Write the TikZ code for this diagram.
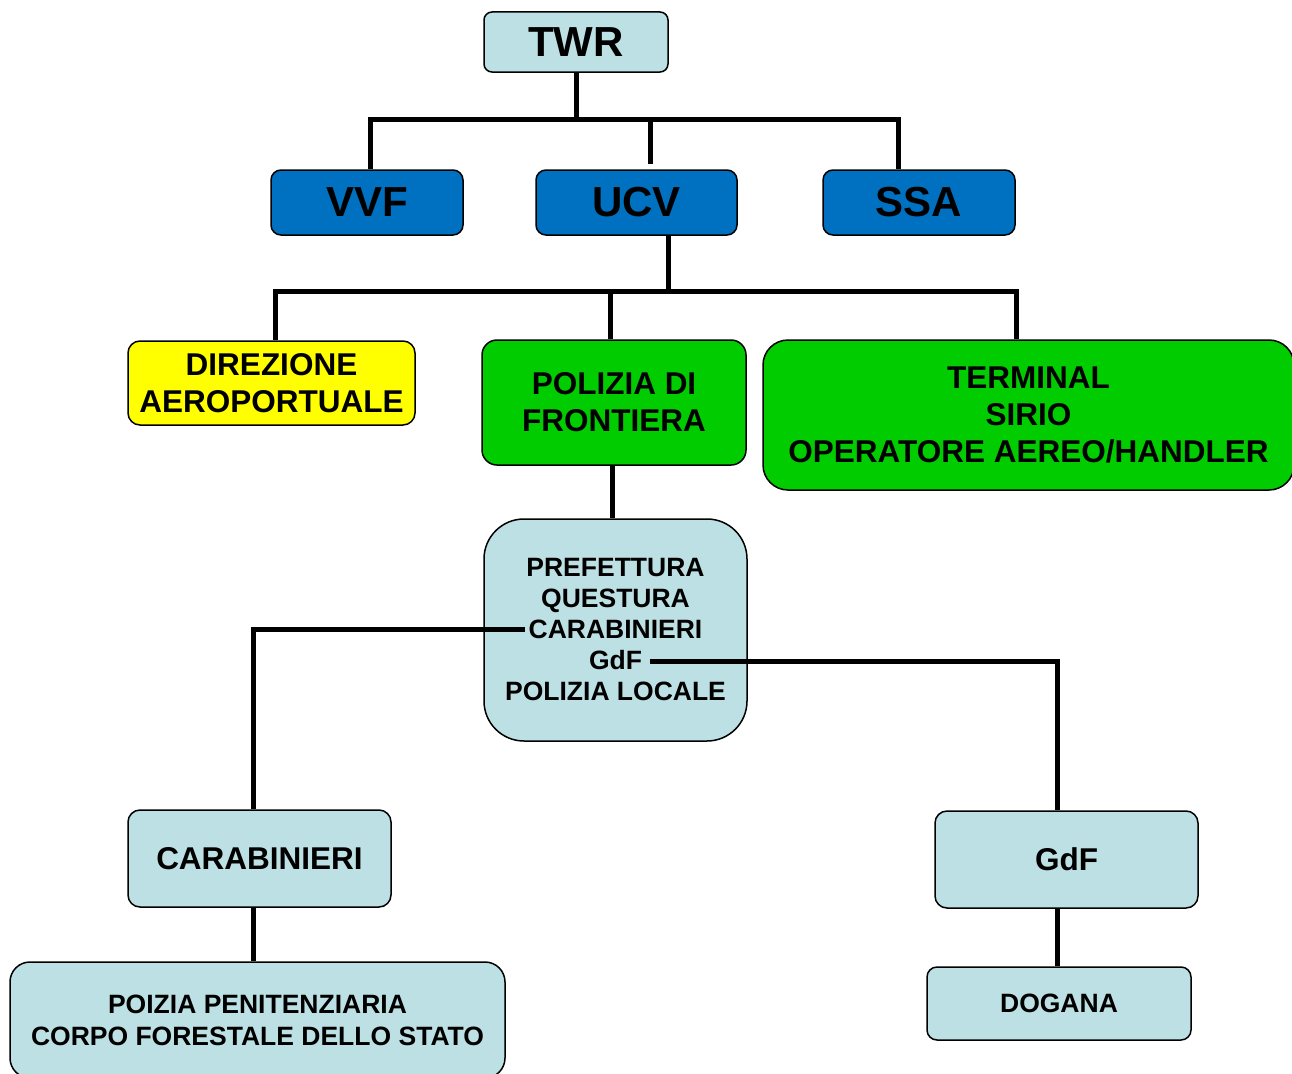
\documentclass[tikz,border=0pt]{standalone}
\usepackage{fontspec}
\setmainfont{Liberation Sans}
\definecolor{lightc}{RGB}{188,224,227}
\definecolor{bluec}{RGB}{0,112,192}
\definecolor{greenc}{RGB}{0,204,0}
\definecolor{yellowc}{RGB}{255,255,0}
\begin{document}
\begin{tikzpicture}[x=1pt,y=-1pt,
  box/.style={draw=black, line width=1.5pt, inner sep=0pt, align=center},
  big/.style={font=\fontsize{42}{48}\selectfont\bfseries},
  mid/.style={font=\fontsize{31.5}{37}\selectfont\bfseries},
  small/.style={font=\fontsize{26.5}{31}\selectfont\bfseries},
  smallb/.style={font=\fontsize{26.5}{32}\selectfont\bfseries},
  conn/.style={line width=5pt, line join=miter}]
\useasboundingbox (0,0) rectangle (1292,1073);
\clip (0,0) rectangle (1292,1073);

\node[box, big, fill=lightc, rounded corners=8pt, minimum width=184pt, minimum height=60pt] (TWR) at (576,42) {TWR};
\node[box, big, fill=bluec, rounded corners=10pt, minimum width=192pt, minimum height=65pt] (VVF) at (367,202.5) {VVF};
\node[box, big, fill=bluec, rounded corners=10pt, minimum width=201pt, minimum height=65pt] (UCV) at (636.5,202.5) {UCV};
\node[box, big, fill=bluec, rounded corners=10pt, minimum width=192pt, minimum height=65pt] (SSA) at (919,202.5) {SSA};

\node[box, mid, fill=yellowc, rounded corners=12pt, minimum width=287pt, minimum height=84pt] (DIR) at (271.5,383) {DIREZIONE\\AEROPORTUALE};
\node[box, mid, fill=greenc, rounded corners=15pt, minimum width=264pt, minimum height=125pt] (POL) at (614,402.5) {POLIZIA DI\\FRONTIERA};
\node[box, mid, fill=greenc, rounded corners=25pt, minimum width=531pt, minimum height=150pt] (TER) at (1028.5,415) {TERMINAL\\SIRIO\\OPERATORE AEREO/HANDLER};

\node[box, small, fill=lightc, rounded corners=40pt, minimum width=263pt, minimum height=222pt] (PRE) at (615.5,630) {PREFETTURA\\QUESTURA\\CARABINIERI\\GdF\\POLIZIA LOCALE};

\node[box, mid, fill=lightc, rounded corners=12pt, minimum width=263pt, minimum height=97pt] (CAR) at (259.5,858.5) {CARABINIERI};
\node[box, mid, fill=lightc, rounded corners=12pt, minimum width=263pt, minimum height=97pt] (GDF) at (1066.5,859.5) {GdF};

\node[box, smallb, fill=lightc, rounded corners=20pt, minimum width=495pt, minimum height=116pt] (POI) at (257.5,1020) {POIZIA PENITENZIARIA\\CORPO FORESTALE DELLO STATO};
\node[box, small, fill=lightc, rounded corners=10pt, minimum width=264pt, minimum height=73pt] (DOG) at (1059,1003.5) {DOGANA};

% connectors
\coordinate (bus1) at (577,119);
\coordinate (bus2) at (668,291);
\coordinate (pc) at (525,629);
\coordinate (pg) at (650,661);

\draw[conn] (TWR.south) -- (TWR.south |- bus1);
\draw[conn] ([xshift=3pt]VVF.north) |- ([xshift=-21pt]SSA.north |- bus1) -- ([xshift=-21pt]SSA.north);
\draw[conn] ([xshift=13.5pt,yshift=5pt]UCV.north) -- ([xshift=13.5pt]UCV.north |- bus1);

\draw[conn] ([xshift=31.5pt]UCV.south) -- ([xshift=31.5pt]UCV.south |- bus2);
\draw[conn] ([xshift=3.5pt]DIR.north) |- ([xshift=-12.5pt]TER.north |- bus2) -- ([xshift=-12.5pt]TER.north);
\draw[conn] ([xshift=-4pt]POL.north) -- ([xshift=-4pt]POL.north |- bus2);

\draw[conn] ([xshift=-2pt]POL.south) -- ([xshift=-2pt]POL.south |- PRE.north);

\draw[conn] (pc) -| ([xshift=-6.5pt]CAR.north);
\draw[conn] (pg) -| ([xshift=-9.5pt]GDF.north);
\draw[conn] ([xshift=-6.5pt]CAR.south) -- ([xshift=-6.5pt]CAR.south |- POI.north);
\draw[conn] ([xshift=-9.5pt]GDF.south) -- ([xshift=-9.5pt]GDF.south |- DOG.north);
\end{tikzpicture}
\end{document}
